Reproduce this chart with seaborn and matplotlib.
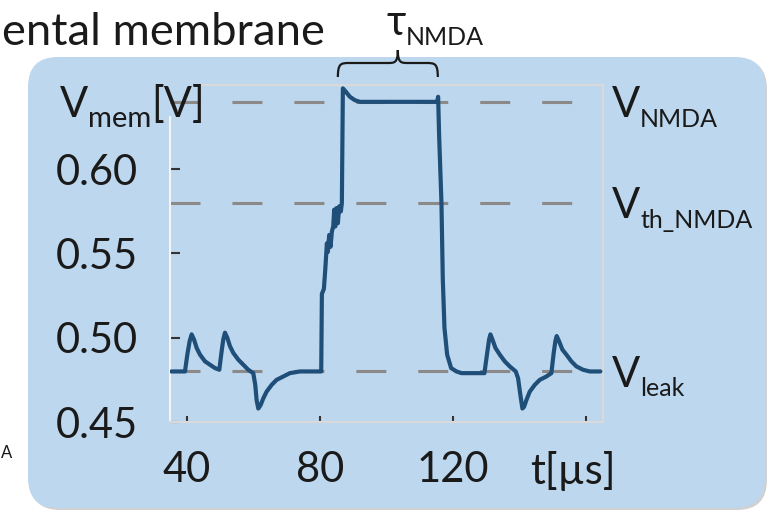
import numpy as np
import pandas as pd
import matplotlib
matplotlib.use("Agg")
import matplotlib.pyplot as plt
import seaborn as sns
from matplotlib.patches import FancyBboxPatch, PathPatch
from matplotlib.path import Path
from matplotlib.transforms import blended_transform_factory

# ── Data ───────────────────────────────────────────────
t_us = [35.4, 39.5, 40.2, 40.9, 41.5, 42.2, 43.0, 44.0, 45.5, 47.0, 48.5, 49.8,
        50.5, 51.0, 51.5, 52.2, 53.0, 54.0, 55.5, 57.0, 58.5, 60.0, 60.6, 61.0,
        61.5, 62.2, 63.0, 64.0, 65.5, 67.0, 69.0, 71.0, 74.0, 80.4, 80.6, 81.2,
        81.6, 82.1, 82.4, 82.8, 83.2, 83.6, 84.0, 84.3, 84.6, 85.0, 85.4, 85.8,
        86.3, 86.6, 86.9, 87.8, 89.0, 90.5, 92.0, 100.0, 110.0, 115.2, 115.5,
        115.8, 116.5, 116.9, 117.4, 118.2, 119.4, 121.0, 122.5, 129.4, 130.3,
        130.8, 131.2, 131.8, 132.7, 134.0, 135.5, 137.0, 138.8, 139.5, 140.2,
        140.8, 141.3, 142.0, 143.0, 144.5, 146.0, 148.0, 149.5, 150.2, 150.7,
        151.1, 151.8, 152.8, 154.0, 155.5, 157.0, 159.0, 161.0, 164.2]
v_mem = [0.480, 0.480, 0.490, 0.498, 0.502, 0.499, 0.494, 0.490, 0.486, 0.484, 0.482, 0.481,
         0.492, 0.499, 0.503, 0.500, 0.495, 0.491, 0.487, 0.484, 0.481, 0.479, 0.472, 0.463,
         0.458, 0.460, 0.464, 0.468, 0.472, 0.475, 0.477, 0.479, 0.480, 0.480, 0.526, 0.529,
         0.540, 0.556, 0.551, 0.561, 0.554, 0.563, 0.566, 0.576, 0.566, 0.577, 0.568, 0.578,
         0.575, 0.580, 0.648, 0.646, 0.643, 0.641, 0.640, 0.640, 0.640, 0.640, 0.643,
         0.620, 0.580, 0.535, 0.506, 0.490, 0.482, 0.480, 0.479, 0.479, 0.492,
         0.499, 0.502, 0.499, 0.494, 0.490, 0.486, 0.483, 0.480, 0.476, 0.466,
         0.458, 0.459, 0.463, 0.468, 0.472, 0.475, 0.477, 0.479, 0.491, 0.498,
         0.501, 0.498, 0.493, 0.490, 0.486, 0.483, 0.481, 0.480, 0.480]

level_values = [0.640, 0.580, 0.480]
level_names = [("V", "NMDA"), ("V", "th_NMDA"), ("V", "leak")]

y_ticks = [0.45, 0.50, 0.55, 0.60]
y_ticklabels = ["0.45", "0.50", "0.55", "0.60"]
x_ticks = [40, 80, 120, 160]
x_ticklabels = ["40", "80", "120", ""]

tau_span = (85.4, 115.4)   # NMDA plateau, marked by the brace
tau_tip = 103.4

# ── Style ──────────────────────────────────────────────
sns.set_theme(style="white")
plt.rcParams["font.family"] = ["Lato", "Noto Sans", "DejaVu Sans"]

BOX_BLUE = "#bdd7ee"
TRACE = "#1f4e79"
DASH = "#8c8a88"
INK = "#1a1a1a"

fig = plt.figure(figsize=(7.69, 5.12), dpi=100)
fig.patch.set_facecolor("white")

# rounded blue panel (in inches so corners stay round) + faint shadow
shadow = FancyBboxPatch((0.30, 0.02), 7.37, 4.51,
                        boxstyle="round,pad=0,rounding_size=0.3",
                        transform=fig.dpi_scale_trans, facecolor="#9a9a9a",
                        edgecolor="none", alpha=0.45, zorder=-3)
panel = FancyBboxPatch((0.28, 0.04), 7.37, 4.51,
                       boxstyle="round,pad=0,rounding_size=0.3",
                       transform=fig.dpi_scale_trans, facecolor=BOX_BLUE,
                       edgecolor="none", zorder=-2)
fig.add_artist(shadow)
fig.add_artist(panel)

ax = fig.add_axes([170 / 769, 90 / 512, 433 / 769, 337 / 512])
ax.set_facecolor("none")

df = pd.DataFrame({"t": t_us, "v": v_mem})
sns.lineplot(data=df, x="t", y="v", sort=False, estimator=None,
             color=TRACE, linewidth=3.0, ax=ax, zorder=3)

lw_dash = 2.2
for lv in level_values:
    ax.axhline(lv, color=DASH, linewidth=lw_dash,
               linestyle=(0, (21.6 / lw_dash, 23.0 / lw_dash)), zorder=2)

ax.set_xlim(35, 165)
ax.set_ylim(0.45, 0.65)
ax.set_xlabel("")
ax.set_ylabel("")

for side in ["top", "right", "bottom"]:
    ax.spines[side].set_color("#d9d9d9")
    ax.spines[side].set_linewidth(1.5)
ax.spines["left"].set_color("#f4f4f4")
ax.spines["left"].set_linewidth(1.5)
ax.spines["top"].set_bounds(44.9, 165)
ax.spines["left"].set_bounds(0.45, 0.631)

ax.set_yticks(y_ticks)
ax.set_yticklabels(y_ticklabels)
ax.set_xticks(x_ticks)
ax.set_xticklabels(x_ticklabels)
ax.tick_params(axis="y", direction="in", length=7, width=1.5, color="#333333",
               labelsize=30, pad=23, labelcolor=INK, left=True)
ax.tick_params(axis="x", direction="in", length=4.5, width=1.5, color="#333333",
               labelsize=30, pad=21, labelcolor=INK, bottom=True)

ax.annotate("t[\u00b5s]", xy=(155.9, 0), xycoords=("data", "axes fraction"),
            xytext=(0, -21), textcoords="offset points", ha="center", va="top",
            fontsize=30, color=INK, annotation_clip=False)

renderer = fig.canvas.get_renderer()


def pieces_label(xy, xycoords, pieces, dx, dy):
    """Lay out main text + subscript pieces one after another."""
    x = dx
    for text, size, drop in pieces:
        a = ax.annotate(text, xy=xy, xycoords=xycoords, xytext=(x, dy - drop),
                        textcoords="offset points", fontsize=size, ha="left",
                        va="baseline", color=INK, annotation_clip=False)
        x += a.get_window_extent(renderer).width * 72 / fig.dpi


# right-hand level labels
for lv, (main, sub) in zip(level_values, level_names):
    pieces_label((1, lv), ("axes fraction", "data"),
                 [(main, 30, 0), (sub, 18, 7)], 6.5, -11)

# y-axis label in place of the top tick label
pieces_label((0, 1), "axes fraction",
             [("V", 30, 0), ("mem", 21, 7), ("[V]", 30, 0)], -79, -23)

# tau brace over the plateau
bt = blended_transform_factory(ax.transData, ax.transAxes)
x0, x1 = tau_span
yb, ym, yt = 1 + 8 / 337, 1 + 22 / 337, 1 + 35 / 337
verts = [(x0, yb), (x0, ym), (x0 + 1, ym), (x0 + 3.6, ym),
         (tau_tip - 3, ym),
         (tau_tip - 1, ym), (tau_tip, ym), (tau_tip, yt),
         (tau_tip, ym), (tau_tip + 1, ym), (tau_tip + 3, ym),
         (x1 - 3.6, ym),
         (x1 - 1, ym), (x1, ym), (x1, yb)]
codes = [Path.MOVETO, Path.CURVE4, Path.CURVE4, Path.CURVE4,
         Path.LINETO,
         Path.CURVE4, Path.CURVE4, Path.CURVE4,
         Path.CURVE4, Path.CURVE4, Path.CURVE4,
         Path.LINETO,
         Path.CURVE4, Path.CURVE4, Path.CURVE4]
ax.add_patch(PathPatch(Path(verts, codes), transform=bt, facecolor="none",
                       edgecolor=INK, linewidth=1.6, clip_on=False))

pieces_label((tau_tip, 1), ("data", "axes fraction"),
             [("\u03c4", 30, 0), ("NMDA", 18, 7)], -8, 36)

# text from the neighbouring panel (cropped in the source figure)
fig.text(325 / 769, 1 - 45 / 512, "ental membrane", ha="right", va="baseline",
         fontsize=32.6, color=INK)
fig.text(0.5 / 769, 1 - 458 / 512, "A", ha="left", va="baseline",
         fontsize=12, color=INK)

fig.savefig("out.png", dpi=100)
